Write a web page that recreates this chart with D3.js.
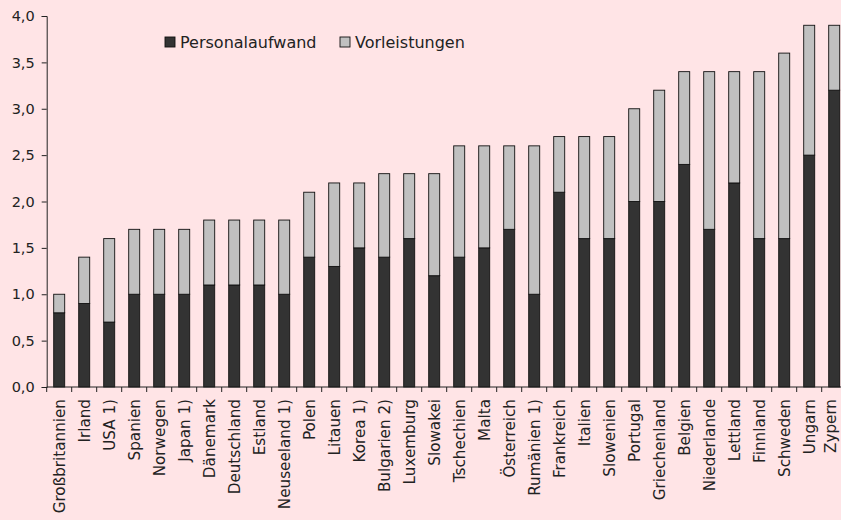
<!DOCTYPE html>
<html><head><meta charset="utf-8">
<script src="https://cdn.jsdelivr.net/npm/d3@7"></script>
<style>
html,body{margin:0;padding:0;background:#FFE4E6;}
svg{display:block;font-family:"DejaVu Sans",sans-serif;}
</style></head>
<body>
<script>
const categories = ["Großbritannien","Irland","USA 1)","Spanien","Norwegen","Japan 1)","Dänemark","Deutschland","Estland","Neuseeland 1)","Polen","Litauen","Korea 1)","Bulgarien 2)","Luxemburg","Slowakei","Tschechien","Malta","Österreich","Rumänien 1)","Frankreich","Italien","Slowenien","Portugal","Griechenland","Belgien","Niederlande","Lettland","Finnland","Schweden","Ungarn","Zypern"];
const personalaufwand = [0.8,0.9,0.7,1.0,1.0,1.0,1.1,1.1,1.1,1.0,1.4,1.3,1.5,1.4,1.6,1.2,1.4,1.5,1.7,1.0,2.1,1.6,1.6,2.0,2.0,2.4,1.7,2.2,1.6,1.6,2.5,3.2];
const vorleistungen  = [0.2,0.5,0.9,0.7,0.7,0.7,0.7,0.7,0.7,0.8,0.7,0.9,0.7,0.9,0.7,1.1,1.2,1.1,0.9,1.6,0.6,1.1,1.1,1.0,1.2,1.0,1.7,1.2,1.8,2.0,1.4,0.7];
const seriesNames = ["Personalaufwand","Vorleistungen"];
const seriesColors = ["#333333","#C0C0C0"];
const yTicks = [0,0.5,1.0,1.5,2.0,2.5,3.0,3.5,4.0];

const W = 841, H = 520;
const svg = d3.select("body").append("svg").attr("width",W).attr("height",H);
svg.append("rect").attr("width",W).attr("height",H).attr("fill","#FFE4E6");

const x0 = 46.7, x1 = 846.7, yTop = 16, yBot = 387;
const x = d3.scaleBand().domain(categories).range([x0,x1]).paddingInner(0.56).paddingOuter(0.28);
const y = d3.scaleLinear().domain([0,4]).range([yBot,yTop]);

const rows = categories.map((c,i)=>({cat:c, Personalaufwand:personalaufwand[i], Vorleistungen:vorleistungen[i]}));
const stack = d3.stack().keys(seriesNames)(rows);

const loc = d3.formatLocale({decimal:",",thousands:".",grouping:[3],currency:["","€"]});
const fmt = loc.format(".1f");

// bars
stack.forEach((s,si)=>{
  svg.append("g").selectAll("rect").data(s).join("rect")
    .attr("x",d=>x(d.data.cat))
    .attr("width",x.bandwidth())
    .attr("y",d=>y(d[1]))
    .attr("height",d=>y(d[0])-y(d[1]))
    .attr("fill",seriesColors[si])
    .attr("stroke","#111")
    .attr("stroke-width",0.9);
});

// y axis
const yAxis = d3.axisLeft(y).tickValues(yTicks).tickFormat(fmt).tickSize(5).tickPadding(7);
const gy = svg.append("g").attr("transform",`translate(${x0},0)`).call(yAxis);
gy.select(".domain").attr("stroke","#222");
gy.selectAll(".tick line").attr("stroke","#222");
gy.selectAll("text").attr("font-size",14.5).attr("fill","#222").attr("font-family","DejaVu Sans, sans-serif");

// x axis
const gx = svg.append("g").attr("transform",`translate(0,${yBot})`);
gx.append("line").attr("x1",x0).attr("x2",x1).attr("stroke","#222");
const bounds = d3.range(categories.length+1).map(i=>x0 + i*(x1-x0)/categories.length);
gx.selectAll("line.tk").data(bounds).join("line").attr("class","tk")
  .attr("x1",d=>d).attr("x2",d=>d).attr("y1",0).attr("y2",5).attr("stroke","#222");
gx.selectAll("text").data(categories).join("text")
  .attr("transform",d=>`translate(${x(d)+x.bandwidth()/2},12) rotate(-90)`)
  .attr("text-anchor","end").attr("dy","0.35em")
  .attr("font-size",15.2).attr("fill","#222")
  .text(d=>d)
  .each(function(d){
    const r = this.getBoundingClientRect();
    if (r.right > W - 1) {
      const cx = x(d)+x.bandwidth()/2 - (r.right - (W - 1));
      d3.select(this).attr("transform",`translate(${cx},12) rotate(-90)`);
    }
  });

// legend
const leg = svg.append("g");
const legX = [165,340];
seriesNames.forEach((n,i)=>{
  leg.append("rect").attr("x",legX[i]).attr("y",37).attr("width",10).attr("height",10)
    .attr("fill",seriesColors[i]).attr("stroke","#111").attr("stroke-width",0.9);
  leg.append("text").attr("x",legX[i]+15).attr("y",47.5).attr("font-size",16).attr("fill","#222").text(n);
});
</script>
</body></html>
